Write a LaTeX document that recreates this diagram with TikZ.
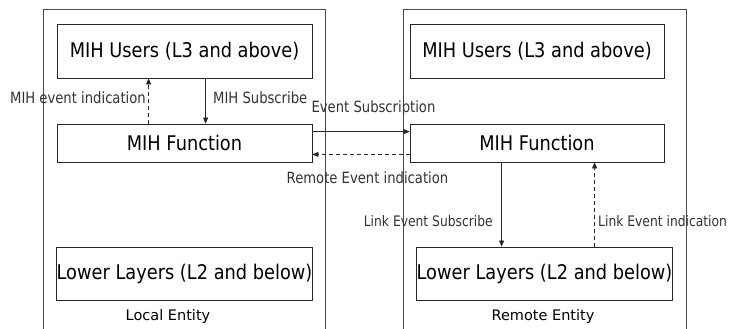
\documentclass[tikz,border=0pt]{standalone}
\usepackage{fontspec}
\setmainfont{DejaVu Sans}[FakeStretch=0.88]
\newfontfamily\narrowfont{DejaVu Sans}[FakeStretch=0.85]
\newfontfamily\entfont{DejaVu Sans}
\usetikzlibrary{arrows.meta}
\begin{document}
\begin{tikzpicture}[x=1pt,y=-1pt,
  box/.style={draw=black!85, line width=0.8pt, inner sep=0pt, font=\fontsize{20.2}{23}\selectfont},
  lbl/.style={inner sep=0pt, text=black!80, font=\narrowfont\fontsize{15.5}{17}\selectfont},
  slbl/.style={lbl, font=\narrowfont\fontsize{14.5}{16}\selectfont},
  ent/.style={inner sep=0pt, text=black, font=\entfont\fontsize{14.5}{16}\selectfont},
  frame/.style={draw=black!70, line width=0.8pt},
  arr/.style={draw=black!85, line width=0.7pt, -{Triangle[width=5pt,length=6pt]}},
  darr/.style={arr, dash pattern=on 4pt off 3pt}]
\useasboundingbox (0,0) rectangle (733,329);
\fill[white] (0,0) rectangle (733,329);

% entity frames, open at the bottom
\draw[frame] (43,329) -- (43,9) -- (325,9) -- (325,329);
\draw[frame] (403,329) -- (403,9) -- (686,9) -- (686,329);

% local entity
\node[box, minimum width=255pt, minimum height=54pt] (lu) at (184.5,51) {MIH Users (L3 and above)};
\node[box, minimum width=255pt, minimum height=38pt] (lf) at (184.5,143) {MIH Function};
\node[box, minimum width=255pt, minimum height=53pt] (ll) at (184.5,273.5) {Lower Layers (L2 and below)};
\node[ent] (le) at (168,316) {Local Entity};

% remote entity
\node[box, minimum width=254pt, minimum height=54pt] (ru) at (537,51) {MIH Users (L3 and above)};
\node[box, minimum width=254pt, minimum height=38pt] (rf) at (537,143) {MIH Function};
\node[box, minimum width=255pt, minimum height=53pt] (rl) at (544.5,273.5) {Lower Layers (L2 and below)};
\node[ent] (re) at (543,316) {Remote Entity};

% local primitives
\draw[darr] ([xshift=92pt]lf.north west) -- ([xshift=92pt]lf.north west |- lu.south);
\draw[arr] ([xshift=149pt]lu.south west) -- ([xshift=149pt]lu.south west |- lf.north);
\node[lbl, anchor=east] (l1) at (146,98) {MIH event indication};
\node[lbl, anchor=west] (l2) at (213,98) {MIH Subscribe};

% remote primitives
\draw[arr] ([yshift=-8pt]lf.north east) -- ([yshift=-8pt]lf.north east -| rf.west);
\draw[darr] ([yshift=8pt]rf.south west) -- ([yshift=8pt]rf.south west -| lf.east);
\node[lbl] (l3) at (373.5,108) {Event Subscription};
\node[lbl] (l4) at (367.5,178) {Remote Event indication};

% link primitives
\draw[arr] ([xshift=92pt]rf.south west) -- ([xshift=92pt]rf.south west |- rl.north);
\draw[darr] ([xshift=185pt]rf.south west |- rl.north) -- ([xshift=185pt]rf.south west);
\node[slbl, anchor=east] (l5) at (493,221) {Link Event Subscribe};
\node[slbl, anchor=west] (l6) at (598,221) {Link Event indication};
\end{tikzpicture}
\end{document}
